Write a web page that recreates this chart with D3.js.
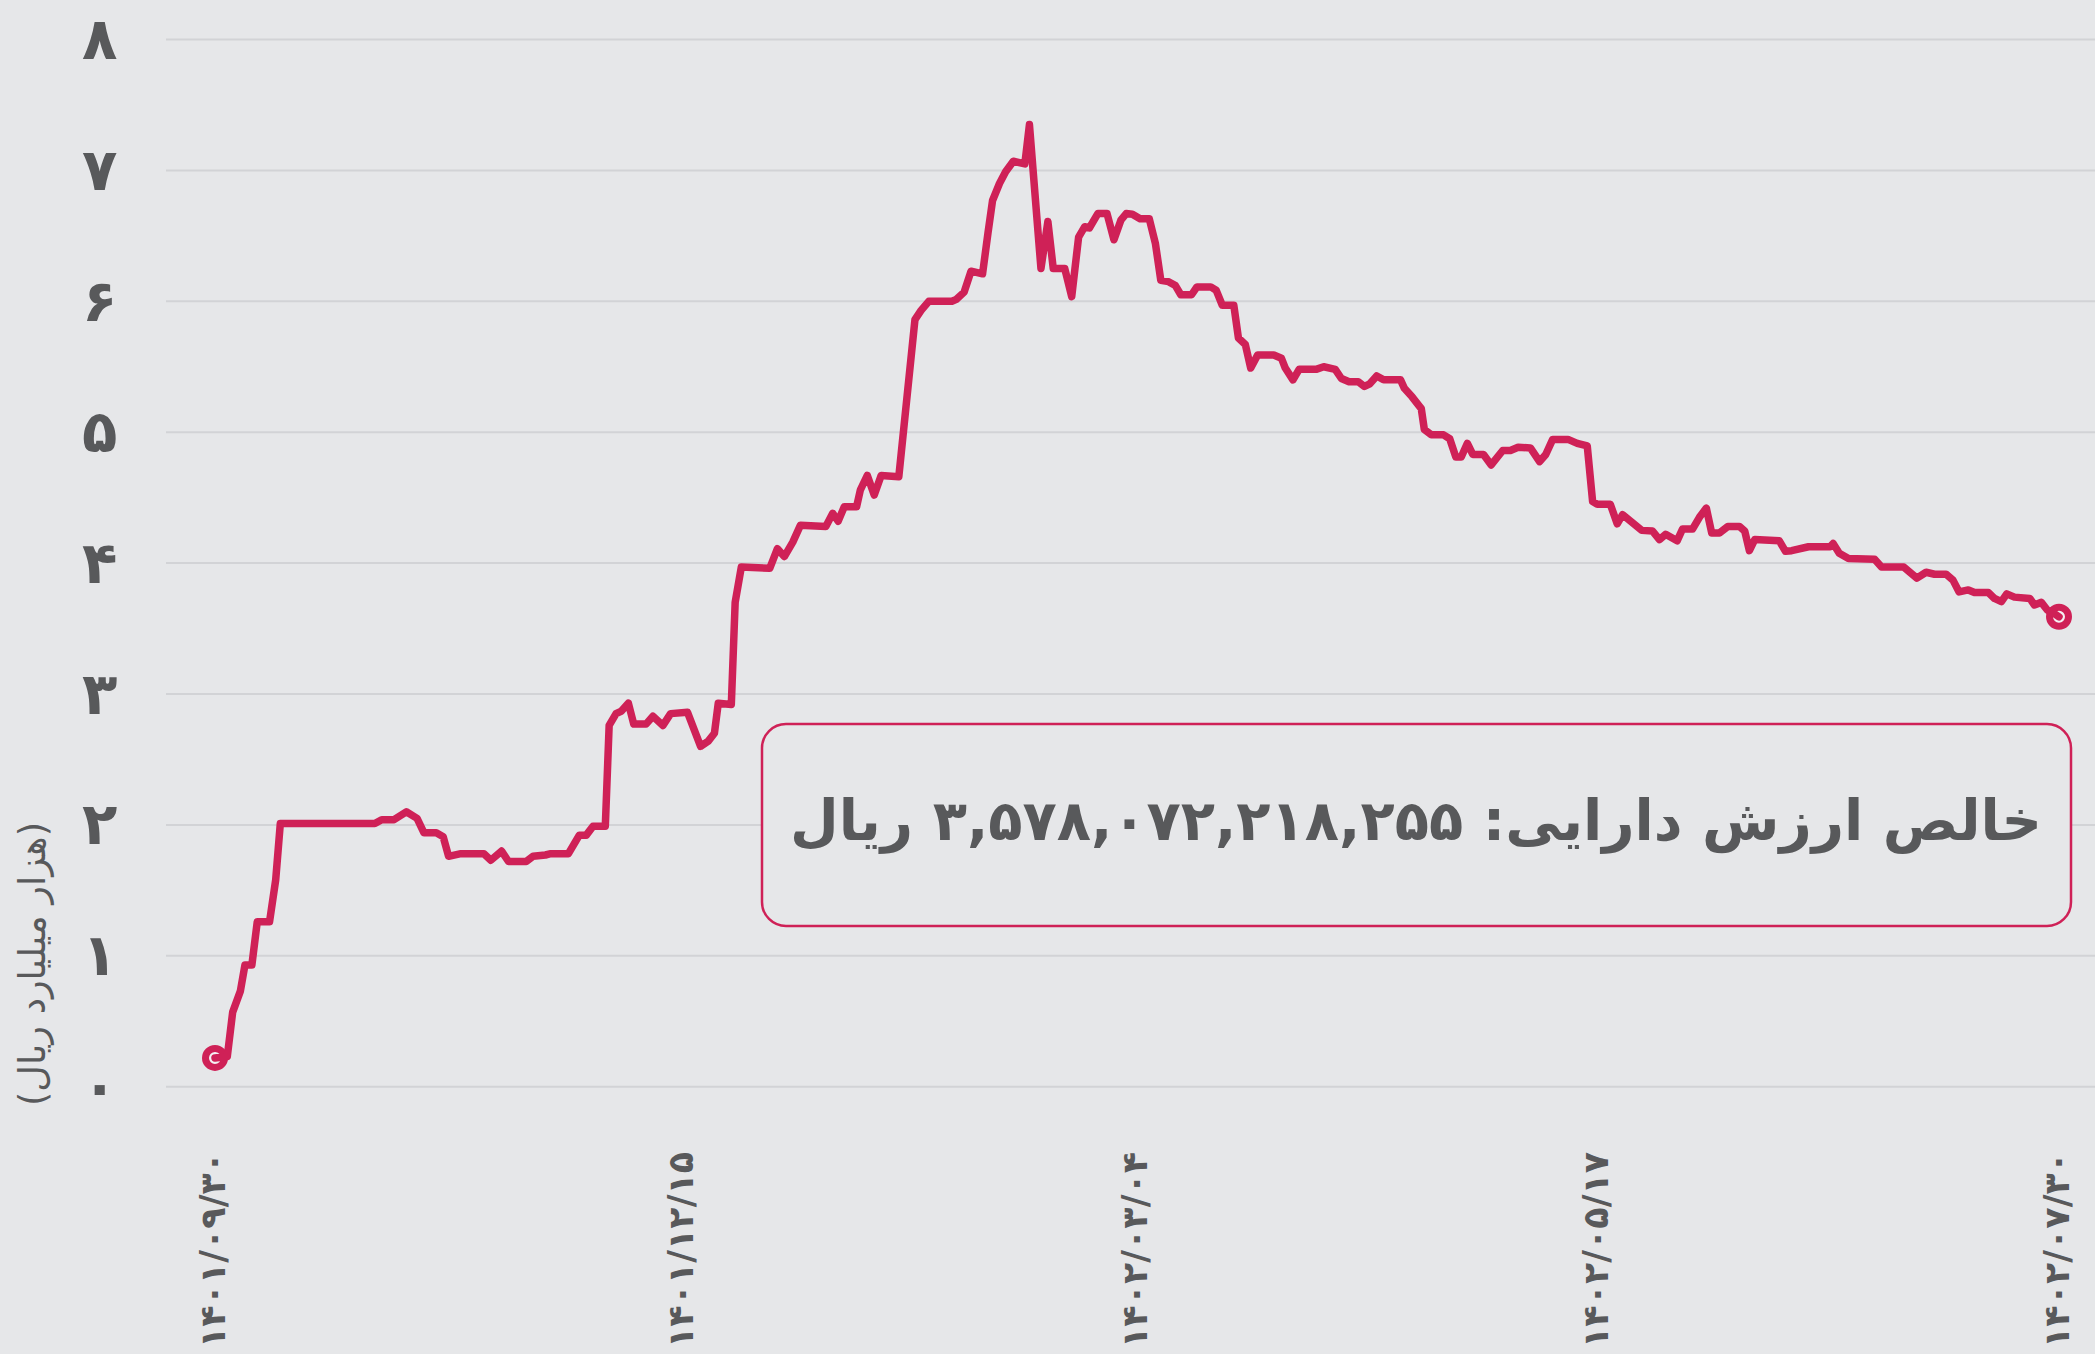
<!DOCTYPE html>
<html><head><meta charset="utf-8">
<script src="https://cdn.jsdelivr.net/npm/d3@7"></script>
<style>html,body{margin:0;padding:0;background:#e6e7e9;} svg{display:block}</style>
</head><body>
<svg id="c" width="2095" height="1354"></svg>
<script>
// ---- data ----
const dayIndex = [0,1.6,2.3,3.3,3.9,4.8,5.5,7.1,7.9,8.5,20.8,21.7,23.3,24.9,26.3,27.2,28.8,29.7,30.4,32.0,35.0,35.9,37.3,38.2,40.5,41.4,43.0,43.7,46.0,47.4,48.3,49.2,50.8,51.3,52.2,52.9,53.8,54.5,56.1,57.0,58.3,59.3,61.5,63.2,64.2,65.0,65.5,67.2,67.7,68.5,72.2,73.2,74.1,75.2,76.2,79.5,80.4,81.1,81.9,83.5,84.0,84.9,85.8,86.7,89.0,91.1,91.9,92.9,95.9,96.5,97.5,98.4,99.9,100.6,101.2,102.1,102.9,103.9,105.4,106.0,107.5,108.4,109.1,110.6,111.5,112.4,113.2,113.8,114.9,116.1,117.0,117.9,118.6,119.4,120.4,121.6,122.4,123.1,124.1,125.0,125.7,127.1,127.8,129.6,130.3,131.1,132.6,133.2,134.1,134.8,135.7,137.8,138.8,139.3,140.3,141.1,143.3,144.3,145.8,146.6,147.6,148.8,149.6,150.3,151.2,152.1,154.3,154.8,155.8,157.0,157.4,158.3,159.9,160.7,161.5,162.2,163.0,163.7,165.1,166.1,167.6,168.6,169.6,171.2,172.4,173.2,174.1,176.1,177.3,178.6,179.3,179.9,181.6,182.5,183.2,185.7,187.1,188.0,188.8,190.3,191.0,192.3,193.2,194.1,194.8,195.8,196.9,198.4,199.1,199.7,200.4,203.6,204.4,205.2,207.4,210.2,210.6,211.4,212.6,216.0,216.9,219.8,221.5,222.7,223.8,225.3,226.2,227.0,228.2,229.0,230.8,231.6,232.5,233.2,234.2,236.2,236.8,237.7,238.5,239.3,240];
const navValues = [0.22,0.23,0.57,0.73,0.93,0.93,1.26,1.26,1.58,2.01,2.01,2.04,2.04,2.10,2.05,1.94,1.94,1.91,1.76,1.78,1.78,1.73,1.80,1.72,1.72,1.76,1.77,1.78,1.78,1.92,1.92,1.99,1.99,2.76,2.85,2.87,2.93,2.77,2.77,2.83,2.76,2.85,2.86,2.60,2.64,2.70,2.93,2.92,3.70,3.97,3.96,4.11,4.05,4.16,4.29,4.28,4.38,4.32,4.43,4.43,4.56,4.67,4.52,4.67,4.66,5.86,5.93,6.00,6.00,6.015,6.07,6.23,6.21,6.52,6.77,6.90,6.99,7.07,7.05,7.35,6.25,6.61,6.25,6.25,6.035,6.49,6.57,6.56,6.67,6.67,6.47,6.62,6.67,6.665,6.63,6.63,6.44,6.16,6.15,6.12,6.05,6.05,6.11,6.11,6.085,5.97,5.97,5.72,5.67,5.49,5.59,5.59,5.565,5.49,5.40,5.48,5.48,5.50,5.48,5.41,5.385,5.385,5.35,5.37,5.43,5.40,5.40,5.335,5.27,5.18,5.02,4.98,4.98,4.95,4.81,4.81,4.915,4.83,4.83,4.75,4.86,4.86,4.885,4.88,4.775,4.83,4.945,4.945,4.915,4.895,4.47,4.45,4.45,4.30,4.37,4.25,4.245,4.18,4.22,4.17,4.26,4.26,4.35,4.42,4.23,4.23,4.28,4.28,4.245,4.095,4.18,4.17,4.09,4.095,4.125,4.125,4.15,4.075,4.035,4.03,3.97,3.97,3.885,3.93,3.915,3.915,3.87,3.78,3.795,3.775,3.775,3.73,3.705,3.765,3.74,3.73,3.68,3.70,3.64,3.617,3.59];
const xTickIndex = [0, 61, 120, 180, 240];
const xTickLabels = ["۱۴۰۱/۰۹/۳۰", "۱۴۰۱/۱۲/۱۵", "۱۴۰۲/۰۳/۰۴", "۱۴۰۲/۰۵/۱۷", "۱۴۰۲/۰۷/۳۰"];
const yTickValues = [0, 1, 2, 3, 4, 5, 6, 7, 8];
const yTickLabels = ["۰", "۱", "۲", "۳", "۴", "۵", "۶", "۷", "۸"];
const yAxisTitle = "(هزار میلیارد ریال)";
const annotationText = "خالص ارزش دارایی: ۳,۵۷۸,۰۷۲,۲۱۸,۲۵۵ ریال";

// ---- drawing ----
const W = 2095, H = 1354;
const BG = "#e6e7e9", LINE = "#cf2157", TEXT = "#58595b", GRID = "#d2d3d6";
const FONT = "DejaVu Sans";
const svg = d3.select("#c");
svg.append("rect").attr("width", W).attr("height", H).attr("fill", BG);

const x = d3.scaleLinear().domain([0, 240]).range([215, 2059]);
const y = d3.scaleLinear().domain([0, 8]).range([1086.7, 39.5]);

function fit(sel, target) {
  const len = sel.node().getComputedTextLength();
  const fs = parseFloat(sel.attr("font-size"));
  sel.attr("font-size", fs * target / len);
}

// grid
svg.append("g").selectAll("line").data(yTickValues).join("line")
  .attr("x1", 166).attr("x2", W)
  .attr("y1", d => y(d)).attr("y2", d => y(d))
  .attr("stroke", GRID).attr("stroke-width", 2);

// y axis labels
const yAxis = svg.append("g").attr("transform", "translate(82,0)")
  .call(d3.axisLeft(y).tickValues(yTickValues).tickFormat((d, i) => yTickLabels[i]).tickSize(0).tickPadding(0));
yAxis.select(".domain").remove();
yAxis.selectAll("text").attr("text-anchor", "start").attr("x", 0).attr("dy", null).attr("dominant-baseline", null)
  .attr("transform", "translate(0,19)")
  .attr("font-family", FONT).attr("font-weight", "bold").attr("font-size", 58).attr("fill", TEXT);

// x axis labels
const xAxis = svg.append("g").attr("transform", "translate(0,1152)")
  .call(d3.axisBottom(x).tickValues(xTickIndex).tickFormat((d, i) => xTickLabels[i]).tickSize(0).tickPadding(0));
xAxis.select(".domain").remove();
xAxis.selectAll("text")
  .attr("font-family", FONT).attr("font-weight", "bold").attr("font-size", 32).attr("fill", TEXT)
  .attr("direction", "ltr").attr("y", 0).attr("dy", null)
  .attr("text-anchor", "end")
  .attr("transform", "translate(9,0) rotate(-90)");
xAxis.selectAll("text").each(function () { fit(d3.select(this), 196); });

// y title
const yt = svg.append("text")
  .attr("transform", "translate(45,964) rotate(-90)")
  .attr("text-anchor", "middle").attr("direction", "rtl")
  .attr("font-family", FONT).attr("font-size", 30).attr("fill", TEXT)
  .text(yAxisTitle);
fit(yt, 284);

// line
const pts = dayIndex.map((d, i) => [d, navValues[i]]);
const line = d3.line().x(d => x(d[0])).y(d => y(d[1]));

// end markers
const ends = [pts[0], pts[pts.length - 1]];
svg.append("g").selectAll("circle").data(ends).join("circle")
  .attr("cx", d => x(d[0])).attr("cy", d => y(d[1])).attr("r", 9.5)
  .attr("fill", "#f4f1f3").attr("stroke", LINE).attr("stroke-width", 7);

svg.append("path").datum(pts).attr("d", line)
  .attr("fill", "none").attr("stroke", LINE).attr("stroke-width", 7.5)
  .attr("stroke-linejoin", "round").attr("stroke-linecap", "round");

// annotation box
svg.append("rect").attr("x", 762).attr("y", 724).attr("width", 1309).attr("height", 202)
  .attr("rx", 24).attr("ry", 24)
  .attr("fill", BG).attr("stroke", LINE).attr("stroke-width", 2.5);
const at = svg.append("text")
  .attr("x", 1416).attr("y", 840)
  .attr("text-anchor", "middle").attr("direction", "rtl")
  .attr("font-family", FONT).attr("font-weight", "bold").attr("font-size", 52).attr("fill", TEXT)
  .text(annotationText);
fit(at, 1252);
</script>
</body></html>
